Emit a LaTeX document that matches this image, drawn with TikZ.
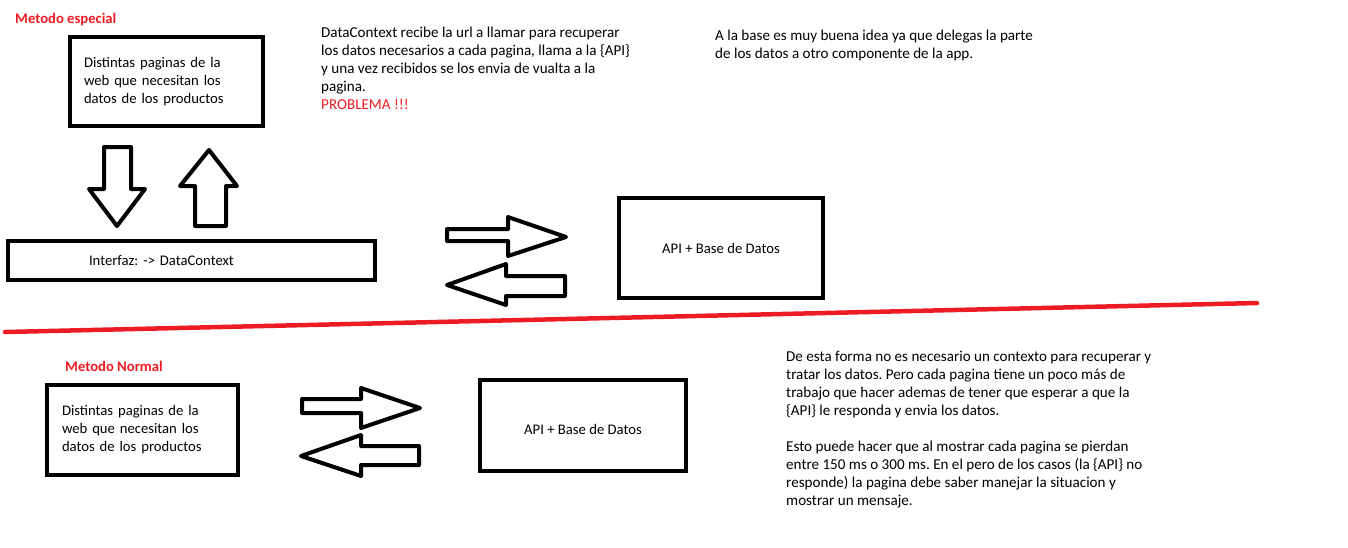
\documentclass[tikz,border=0pt]{standalone}
\usepackage{fontspec}
\setmainfont{Carlito}
\frenchspacing
\definecolor{paintred}{RGB}{237,28,36}
\tikzset{
  box/.style={draw=black, line width=4pt, fill=white, inner sep=0pt},
  txt/.style={font=\fontsize{14.67}{18}\selectfont, inner sep=0pt, align=left},
  desctxt/.style={font=\fontsize{15.1}{18}\selectfont, inner sep=0pt, align=left},
  title/.style={font=\fontsize{14.67}{18}\selectfont\bfseries, text=paintred, inner sep=0pt},
  blockarrow/.style={draw=black, line width=4pt, line join=round, fill=white}
}
\begin{document}
\begin{tikzpicture}[x=1pt,y=-1pt]
\useasboundingbox (0,0) rectangle (1348,547);
% ---------- Metodo especial ----------
\node[title, anchor=base west] (t1) at (15,23.5) {Metodo especial};
\node[box, txt, minimum width=193pt, minimum height=89pt, text width=165pt] (pages1) at (166.5,81.5)
  {Distintas paginas de la\\web que necesitan los\\datos de los productos};
\node[box, txt, minimum width=367pt, minimum height=39pt, text width=205pt] (iface) at (191.5,260.5)
  {Interfaz: -> DataContext};
\node[box, txt, minimum width=204pt, minimum height=100pt] (api1) at (721,248) {API + Base de Datos};
% down and up arrows
\draw[blockarrow] (104,147) -- (131,147) -- (131,189) -- (145,189) -- (117,226) -- (89,189) -- (104,189) -- cycle;
\draw[blockarrow] (209,150) -- (237,186) -- (226,186) -- (226,226) -- (195,226) -- (195,186) -- (180,186) -- cycle;
% right / left arrows
\draw[blockarrow] (447,229) -- (508,229) -- (508,217) -- (566,237) -- (508,256) -- (508,241) -- (447,241) -- cycle;
\draw[blockarrow] (447,285) -- (506,264) -- (506,276) -- (565,276) -- (565,296) -- (506,296) -- (506,305) -- cycle;
% texts (base anchor = baseline of last line)
\node[desctxt, anchor=base west] (desc1) at (321,109.5)
  {DataContext recibe la url a llamar para recuperar\\los datos necesarios a cada pagina, llama a la \{API\}\\y una vez recibidos se los envia de vualta a la\\pagina.\\\textcolor{paintred}{PROBLEMA !!!}};
\node[desctxt, anchor=base west] (desc2) at (715,58.5)
  {A la base es muy buena idea ya que delegas la parte\\de los datos a otro componente de la app.};
% ---------- separator ----------
\coordinate (sepL) at (5,332);
\coordinate (sepR) at (1257,303);
\draw[paintred, line width=4.5pt, line cap=round] (sepL) -- (sepR);
% ---------- Metodo Normal ----------
\node[title, anchor=base west] (t2) at (65,371.5) {Metodo Normal};
\node[box, txt, minimum width=191pt, minimum height=90pt, text width=161pt] (pages2) at (142.5,430)
  {Distintas paginas de la\\web que necesitan los\\datos de los productos};
\node[box, minimum width=206pt, minimum height=91pt] (api2) at (583,425.5) {};
\node[txt] (api2t) at (583,429) {API + Base de Datos};
\draw[blockarrow] (302,399) -- (361,399) -- (361,388) -- (420,408) -- (361,428) -- (361,413) -- (302,413) -- cycle;
\draw[blockarrow] (301,456) -- (361,435) -- (361,446) -- (419,446) -- (419,465) -- (361,465) -- (361,476) -- cycle;
\node[desctxt, anchor=base west] (desc3) at (786,505.5)
  {De esta forma no es necesario un contexto para recuperar y\\tratar los datos. Pero cada pagina tiene un poco más de\\trabajo que hacer ademas de tener que esperar a que la\\\{API\} le responda y envia los datos.\\[18pt]Esto puede hacer que al mostrar cada pagina se pierdan\\entre 150 ms o 300 ms. En el pero de los casos (la \{API\} no\\responde) la pagina debe saber manejar la situacion y\\mostrar un mensaje.};
\end{tikzpicture}
\end{document}
